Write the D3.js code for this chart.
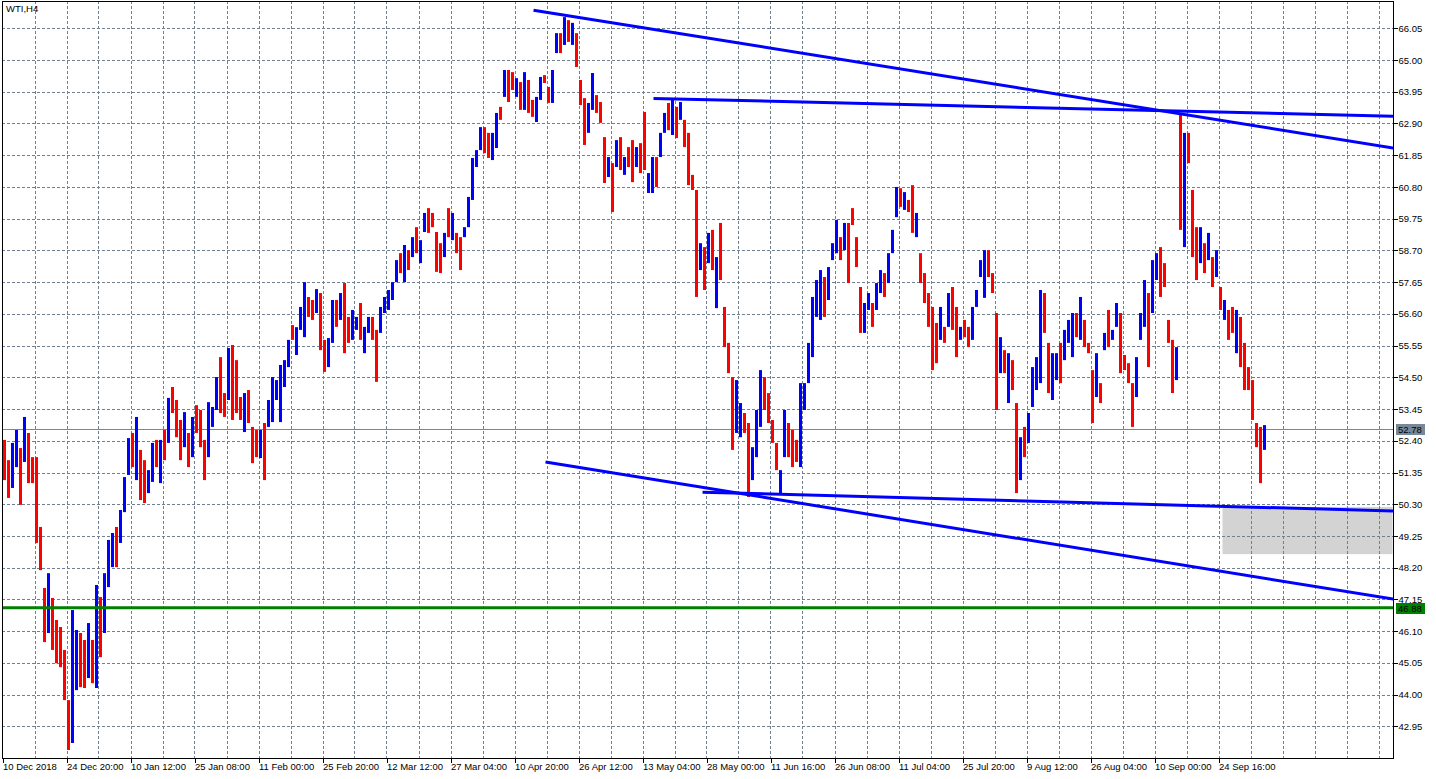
<!DOCTYPE html>
<html>
<head>
<meta charset="utf-8">
<script src="https://cdn.jsdelivr.net/npm/d3@7"></script>
<style>
  body { margin: 0; background: #fff; }
  text { font-family: "Liberation Sans", Arial, sans-serif; font-size: 9.5px; fill: #000; }
</style>
</head>
<body>
<div class="wti_chart"></div>
<script>
// WTI, H4 - one sample every 4 bars (high / low / direction)
const highs = [
  52.43,51.76,52.33,52.76,52.16,53.19,52.66,51.86,51.86,49.55,
  47.53,48.02,47.20,46.47,46.24,45.48,43.82,46.80,46.14,46.04,
  45.81,46.37,45.81,47.63,47.23,48.02,49.12,49.35,49.55,50.11,
  51.20,52.49,52.66,53.19,52.10,51.76,51.43,52.33,52.43,52.43,
  52.76,53.82,54.18,53.75,53.09,53.35,52.66,53.19,53.58,53.42,
  52.43,53.68,53.52,54.51,55.17,53.98,55.47,55.57,55.07,53.85,
  53.98,54.08,52.86,52.76,52.76,52.99,53.75,54.51,54.41,54.91,
  55.07,55.74,56.23,56.16,56.83,57.65,57.16,57.06,57.42,57.29,
  55.74,55.80,57.06,57.06,57.29,57.62,56.50,56.73,56.50,56.96,
  56.17,56.50,56.50,56.07,56.83,57.16,57.39,57.65,58.38,58.61,
  58.88,58.71,59.14,59.47,59.04,59.94,60.10,59.94,59.31,58.94,
  59.28,60.10,59.94,59.28,59.14,59.47,60.47,61.76,62.02,62.78,
  62.78,62.59,62.59,63.25,63.45,64.67,64.67,64.60,64.40,64.27,
  64.60,64.34,63.68,63.78,64.44,64.50,64.11,64.67,65.89,65.89,
  66.42,66.32,66.23,65.89,64.34,63.74,63.58,64.57,63.84,63.61,
  62.45,61.79,61.59,62.35,62.45,61.79,62.12,62.35,62.12,62.25,
  63.28,61.26,61.79,61.79,62.59,63.25,63.58,63.74,63.45,63.61,
  63.02,62.59,61.20,60.70,58.94,58.81,59.28,59.38,58.48,59.61,
  56.83,55.64,54.51,54.41,53.65,53.32,52.99,52.19,53.42,54.74,
  54.51,53.98,53.09,52.33,51.43,53.42,52.99,52.76,52.43,54.31,
  54.31,55.64,57.16,57.72,58.05,57.82,58.15,58.94,59.71,59.14,
  59.61,59.61,60.10,59.14,57.49,56.96,57.29,56.96,57.62,58.05,
  57.95,58.61,59.38,60.80,60.76,60.63,60.37,60.86,59.94,58.61,
  57.95,57.29,56.83,56.30,56.83,56.17,57.29,57.49,56.83,56.17,
  56.40,56.17,56.83,57.39,58.38,58.71,58.71,57.95,56.63,55.83,
  55.40,55.30,55.07,53.65,52.52,52.86,53.32,54.84,55.17,57.39,
  57.29,55.64,55.30,55.30,55.64,56.07,56.40,56.63,56.63,57.16,
  56.40,55.64,54.74,55.30,54.31,55.97,56.73,56.07,56.96,56.63,
  55.24,54.97,54.31,55.17,56.63,57.72,57.29,58.38,58.61,58.81,
  58.28,56.40,55.74,55.50,63.25,62.59,62.59,60.70,59.47,59.47,
  58.94,59.28,58.48,58.71,57.49,57.06,56.73,56.83,56.73,56.50,
  55.64,54.84,54.41,52.99,52.86,52.92
];
const lows = [
  51.10,50.51,50.84,51.53,50.28,51.70,51.00,51.00,49.02,48.12,
  45.74,46.04,45.48,45.04,44.91,43.82,42.17,42.40,44.15,44.25,
  44.22,44.55,44.38,44.22,45.24,46.04,47.56,48.22,48.22,49.02,
  50.04,51.27,51.53,51.10,50.44,50.34,50.67,51.04,51.53,51.00,
  51.76,52.33,53.32,52.52,51.76,52.19,51.53,51.86,52.66,52.19,
  51.10,51.86,52.86,53.42,53.32,53.19,53.75,53.09,53.32,53.09,
  52.69,52.99,51.66,51.86,51.83,51.10,52.86,53.02,53.75,53.02,
  54.18,54.84,55.74,55.24,56.07,55.83,56.50,56.40,56.63,55.40,
  54.68,54.84,55.64,56.17,56.40,55.30,55.64,55.74,56.07,55.74,
  55.30,55.97,55.74,54.35,55.97,56.63,56.73,57.06,57.65,57.95,
  57.65,58.05,58.48,58.61,58.28,59.31,59.28,59.47,57.99,57.95,
  58.48,59.14,59.04,58.61,58.05,59.14,59.47,60.37,61.46,62.02,
  61.92,61.76,61.69,62.09,63.02,63.78,63.61,64.01,63.78,63.35,
  63.35,63.25,63.12,62.95,63.68,64.24,63.58,63.58,65.23,65.23,
  65.50,65.60,65.50,64.77,63.51,62.19,62.59,63.35,63.25,62.92,
  60.93,61.13,59.97,61.46,61.36,61.20,61.46,60.96,61.46,61.26,
  61.36,60.60,60.60,60.80,61.79,62.59,62.68,62.52,62.42,63.02,
  62.12,60.86,60.70,57.16,58.05,57.39,58.28,58.05,56.79,57.72,
  55.50,54.64,52.10,52.66,52.52,52.66,50.54,51.10,51.86,52.86,
  53.42,52.99,52.33,51.43,50.67,51.86,51.86,51.53,51.70,51.53,
  53.42,54.31,55.17,56.50,56.40,56.50,57.06,58.38,58.61,58.38,
  58.71,57.62,59.54,58.15,55.97,55.97,56.73,56.17,56.73,57.29,
  57.16,57.62,58.61,59.80,60.14,60.04,59.97,59.28,59.14,57.62,
  56.96,56.17,54.74,54.97,55.74,55.64,56.17,56.07,55.17,55.74,
  55.83,55.50,55.74,56.83,57.82,57.13,57.82,57.29,53.42,54.64,
  54.64,53.65,54.08,50.67,51.10,51.86,52.33,53.52,54.08,54.31,
  55.97,53.98,53.75,54.41,54.31,55.07,55.64,55.17,55.83,55.74,
  55.50,55.30,52.99,53.85,53.65,55.40,55.50,55.74,56.17,54.64,
  54.74,54.31,52.86,53.85,55.74,56.17,54.84,56.63,57.72,57.16,
  57.49,55.64,53.98,54.41,59.38,58.81,61.59,58.48,57.72,58.28,
  57.95,58.38,57.49,57.82,56.73,56.40,55.74,55.97,55.30,54.84,
  54.08,54.08,53.09,52.19,51.00,52.10
];
// u = bull bar (blue), d = bear bar (red)
const dirs = ("dduududddd duddddduud dududuuudu uududduudu dudddududd duuudduddd " +
              "uddduduuuu uuduuuddud duududduud uudduuuuud ududuudddd ududduuuuu " +
              "dduududdud udduudduud ududdduudd dudududdud duuduududu ddddududud " +
              "ddduudduuu dddduudddu uuuuuduuud udddduuduu duuududdud ddddududdu " +
              "dduuuudddu dudduduuuu dduuduuudu dddududuud ddduuuduud dddududddu " +
              "dudududdud dddddu").replace(/ /g, '').split('');

const timeLabels = ["10 Dec 2018","24 Dec 20:00","10 Jan 12:00","25 Jan 08:00","11 Feb 00:00",
  "25 Feb 20:00","12 Mar 12:00","27 Mar 04:00","10 Apr 20:00","26 Apr 12:00","13 May 04:00",
  "28 May 00:00","11 Jun 16:00","26 Jun 08:00","11 Jul 04:00","25 Jul 20:00","9 Aug 12:00",
  "26 Aug 04:00","10 Sep 00:00","24 Sep 16:00"];
const priceTicks = [42.95,44.00,45.05,46.10,47.15,48.20,49.25,50.30,51.35,52.40,53.45,
  54.50,55.55,56.60,57.65,58.70,59.75,60.80,61.85,62.90,63.95,65.00,66.05];

// drawn objects: [startBar, startPrice, endBar, endPrice]
const trendLines = [
  [531, 66.65, 1391, 62.09],
  [651, 63.73, 1391, 63.14],
  [543, 51.70, 1391, 47.16],
  [700, 50.70, 1391, 50.08]
];
const zoneBox = {bar0: 1220, bar1: 1390, top: 50.21, bottom: 48.65};
const supportLevel = 46.88;
const lastPrice = 52.78;

const width = 1436, height = 779;
const plot = {left: 2, right: 1393, top: 1, bottom: 758};

const xScale = d3.scaleLinear().domain([0, 1391]).range([plot.left + 0.5, plot.right + 0.5]);
const yScale = d3.scaleLinear().domain([42.95, 66.05]).range([726.4, 28.3]);

const svg = d3.select('.wti_chart')
              .append('svg')
              .attr('width', width)
              .attr('height', height);

svg.append('rect').attr('width', width).attr('height', height).attr('fill', '#fff');

svg.append('clipPath').attr('id', 'plotclip')
  .append('rect')
  .attr('x', plot.left).attr('y', plot.top)
  .attr('width', plot.right - plot.left).attr('height', plot.bottom - plot.top);

const g = svg.append('g').attr('clip-path', 'url(#plotclip)');

// zone box
g.append('rect')
 .attr('x', xScale(zoneBox.bar0))
 .attr('y', yScale(zoneBox.top))
 .attr('width', xScale(zoneBox.bar1) - xScale(zoneBox.bar0))
 .attr('height', yScale(zoneBox.bottom) - yScale(zoneBox.top))
 .attr('fill', '#d3d3d3');

// grid
const grid = g.append('g')
  .attr('stroke', '#708090')
  .attr('stroke-width', 1)
  .attr('stroke-dasharray', '3,2')
  .attr('shape-rendering', 'crispEdges');

grid.selectAll('.hgrid')
    .data(priceTicks)
    .enter()
    .append('line')
    .attr('x1', plot.left).attr('x2', plot.right)
    .attr('y1', d => Math.round(yScale(d)) + 0.5)
    .attr('y2', d => Math.round(yScale(d)) + 0.5);

grid.selectAll('.vgrid')
    .data(d3.range(32, 1391, 32))
    .enter()
    .append('line')
    .attr('x1', d => Math.round(xScale(d)) + 0.5)
    .attr('x2', d => Math.round(xScale(d)) + 0.5)
    .attr('y1', plot.top).attr('y2', plot.bottom);

// last price line
g.append('line')
 .attr('x1', plot.left).attr('x2', plot.right)
 .attr('y1', Math.round(yScale(lastPrice)) + 0.5)
 .attr('y2', Math.round(yScale(lastPrice)) + 0.5)
 .attr('stroke', '#778899')
 .attr('shape-rendering', 'crispEdges');

// price bars
g.append('g')
 .selectAll('line')
 .data(highs.map((h, i) => ({bar: i * 4 + 2, hi: h, lo: lows[i], up: dirs[i] === 'u'})))
 .enter()
 .append('line')
 .attr('x1', d => xScale(d.bar))
 .attr('x2', d => xScale(d.bar))
 .attr('y1', d => yScale(d.hi))
 .attr('y2', d => yScale(d.lo))
 .attr('stroke', d => d.up ? '#0000ff' : '#ff0000')
 .attr('stroke-width', 3);

// trend lines
g.selectAll('.trend')
 .data(trendLines)
 .enter()
 .append('line')
 .attr('x1', d => xScale(d[0]))
 .attr('y1', d => yScale(d[1]))
 .attr('x2', d => xScale(d[2]))
 .attr('y2', d => yScale(d[3]))
 .attr('stroke', '#0000ff')
 .attr('stroke-width', 3);

// support level
g.append('line')
 .attr('x1', plot.left).attr('x2', plot.right)
 .attr('y1', yScale(supportLevel)).attr('y2', yScale(supportLevel))
 .attr('stroke', '#008000')
 .attr('stroke-width', 3);

// frame
svg.append('rect')
   .attr('x', plot.left + 0.5).attr('y', plot.top + 0.5)
   .attr('width', plot.right - plot.left).attr('height', plot.bottom - plot.top)
   .attr('fill', 'none').attr('stroke', '#000')
   .attr('shape-rendering', 'crispEdges');

// axes
const xAxis = d3.axisBottom(xScale)
                .tickValues(timeLabels.map((d, i) => i * 64))
                .tickFormat((d, i) => timeLabels[i])
                .tickSizeInner(4).tickSizeOuter(0);
const xg = svg.append('g')
   .attr('class', 'axis x-axis')
   .attr('transform', `translate(0, ${plot.bottom + 0.5})`)
   .call(xAxis);
xg.select('.domain').remove();
xg.selectAll('line').attr('stroke', '#000').attr('shape-rendering', 'crispEdges');
xg.selectAll('text')
  .attr('text-anchor', 'start')
  .attr('font-family', '"Liberation Sans", Arial, sans-serif')
  .attr('font-size', 9.5)
  .attr('fill', '#000')
  .attr('x', 0).attr('y', 5).attr('dy', '0.71em');

const yAxis = d3.axisRight(yScale)
                .tickValues(priceTicks)
                .tickFormat(d3.format('.2f'))
                .tickSizeInner(4).tickSizeOuter(0);
const yg = svg.append('g')
   .attr('class', 'axis y-axis')
   .attr('transform', `translate(${plot.right + 0.5}, 0)`)
   .call(yAxis);
yg.select('.domain').remove();
yg.selectAll('line').attr('stroke', '#000').attr('shape-rendering', 'crispEdges');
yg.selectAll('text')
  .attr('font-family', '"Liberation Sans", Arial, sans-serif')
  .attr('font-size', 9.5)
  .attr('fill', '#000')
  .attr('x', 5);

// price tags on the axis
const tags = [
  {price: lastPrice, fill: '#778899'},
  {price: supportLevel, fill: '#008000'}
];
const tg = svg.selectAll('.tag').data(tags).enter().append('g')
  .attr('transform', d => `translate(${plot.right + 3}, ${Math.round(yScale(d.price))})`);
tg.append('rect')
  .attr('x', 0).attr('y', -5).attr('width', 29).attr('height', 11)
  .attr('fill', d => d.fill);
tg.append('text')
  .attr('x', 2).attr('y', 0.5).attr('dy', '0.35em')
  .attr('fill', '#fff')
  .text(d => d.price.toFixed(2));

// symbol caption
svg.append('text')
   .attr('x', 6).attr('y', 12)
   .text('WTI,H4');
</script>
</body>
</html>
